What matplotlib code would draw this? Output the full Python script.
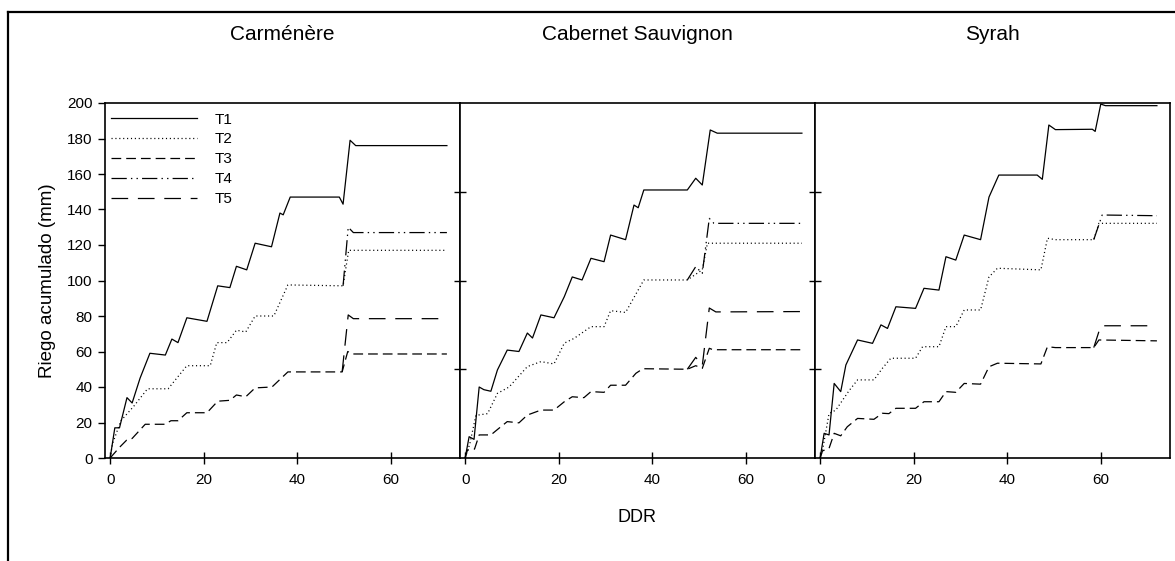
import numpy as np
import matplotlib
matplotlib.use("Agg")
import matplotlib.pyplot as plt
from matplotlib.lines import Line2D

plt.rcParams['font.family'] = ['Liberation Sans', 'DejaVu Sans']
plt.rcParams['lines.scale_dashes'] = False

# riego acumulado (mm) vs DDR, por variedad y tratamiento
cultivares = ["Carménère", "Cabernet Sauvignon", "Syrah"]
tratamientos = ["T1", "T2", "T3", "T4", "T5"]

# Carménère
car_t1_x = [0, 1, 2, 3.6, 4.7, 6.4, 8.5, 11.8, 13.2, 14.5, 16.4, 20.7, 23, 25.6, 27, 29.2, 31, 34.5, 36.3, 37, 38.5, 49, 49.8, 51.3, 52.5, 72]
car_t1_y = [0, 17, 17, 34, 31, 45, 59, 58, 67, 65, 79, 77, 97, 96, 108, 106, 121, 119, 138, 137, 147, 147, 143, 179, 176, 176]
car_t2_x = [0, 0.5, 2.3, 5, 8, 12.4, 16.4, 21.4, 22.8, 25, 27, 29, 31, 35, 38, 49.8, 51, 52, 72]
car_t2_y = [0, 8, 21, 29, 39, 39, 52, 52, 65, 65, 72, 71, 80, 80, 97.5, 97, 117, 117, 117]
car_t3_x = [0, 2, 3.5, 4.7, 7.5, 11.7, 13, 14.5, 16.4, 20.7, 23, 25.6, 27, 29, 31, 34.6, 38, 49.6, 50.8, 51.7, 72]
car_t3_y = [0, 6, 10, 11, 19, 19, 21, 21, 25.5, 25.5, 32, 32.5, 35.5, 34.5, 39.5, 40, 48.5, 48.5, 60, 58.6, 58.6]
car_t4_x = [50.9, 52, 72]      # T4 sigue a T2 hasta el dia 49.8
car_t4_y = [130, 127, 127]
car_t5_x = [50.9, 52, 72]      # T5 sigue a T3 hasta el dia 49.6
car_t5_y = [80.6, 78.5, 78.5]

# Cabernet Sauvignon
cab_t1_x = [0, 0.85, 1.9, 3, 4, 5.5, 6.9, 9, 11.5, 13.3, 14.4, 16.2, 19, 21.2, 22.9, 25, 26.9, 29.7, 31.1, 34.3, 36.1, 37, 38.2, 47.5, 49.3, 50.7, 52.4, 53.9, 72]
cab_t1_y = [0, 12, 10.5, 40, 38.5, 37.6, 49.6, 60.8, 60, 70.4, 67.6, 80.6, 79, 90.9, 102, 100.3, 112.5, 110.6, 125.6, 123, 142.5, 141, 151, 151, 157.6, 153.8, 184.8, 183, 183]
cab_t2_x = [0, 1, 2.3, 4.8, 6.9, 9.4, 13.3, 16.2, 19, 21.2, 23.3, 26.9, 29.7, 31.1, 34.3, 38.2, 47.5, 50.7, 51.8, 53, 72]
cab_t2_y = [0, 8, 24, 25, 36.4, 40, 51.5, 54.3, 53, 64.7, 67.4, 74, 74, 83, 82, 100.3, 100.3, 106, 121, 121, 121]
cab_t3_x = [0, 0.5, 2, 3, 5.5, 7.3, 9, 11.5, 13.3, 16.2, 19, 21.2, 22.9, 25.4, 26.9, 29.7, 31.1, 34.3, 36.5, 38, 47.5, 49.3, 50.7, 52.2, 53, 72]
cab_t3_y = [0, 4.5, 5, 13, 13, 16.9, 20.5, 19.8, 24.2, 27, 27, 31.7, 34.5, 34, 37.4, 37, 41, 41, 47.7, 50.3, 50, 52, 50.5, 61.8, 61, 61]
cab_t4_x = [49.3, 50.7, 52.2, 53.2, 72]   # desde el dia 47.5
cab_t4_y = [107.8, 104, 135, 132.2, 132.2]
cab_t5_x = [49.3, 50.7, 52.2, 53.6, 72]
cab_t5_y = [56.7, 52, 84.5, 82.3, 82.5]

# Syrah
syr_t1_x = [0, 0.85, 1.9, 3, 4.4, 5.5, 8, 11.2, 13, 14.4, 16.2, 20.4, 22.2, 25.4, 26.9, 29, 30.8, 34.3, 36.1, 38.2, 46.4, 47.5, 48.9, 50.3, 58.2, 58.8, 60, 61, 72]
syr_t1_y = [0, 13.9, 13, 42, 37.4, 52.4, 66.5, 64.6, 75, 73, 85.2, 84.3, 95.6, 94.6, 113.4, 111.5, 125.6, 123, 147, 159.4, 159.4, 157, 187.6, 185, 185.2, 184, 199.4, 198.5, 198.5]
syr_t2_x = [0, 0.5, 1.9, 3.35, 6.2, 8, 11.5, 13.3, 15.1, 20.4, 21.9, 25.4, 26.9, 29, 30.8, 34.3, 36.1, 37.9, 47.2, 48.6, 50.3, 58.5, 59.6, 72]
syr_t2_y = [0, 4.3, 25, 27, 38, 44, 44, 50.5, 56.2, 56.2, 62.7, 62.7, 74, 74, 83.4, 83.4, 102, 106.9, 106, 123.8, 123, 123, 132.2, 132.2]
syr_t3_x = [0, 0.5, 1.9, 3, 4.4, 5.8, 8, 11.5, 13.3, 14.7, 16.2, 20.4, 22.2, 25.4, 26.9, 29, 30.8, 34.3, 36.1, 37.9, 47.2, 48.6, 50.3, 58.5, 59.6, 72]
syr_t3_y = [0, 4, 5.4, 13.9, 12.5, 17.6, 22.3, 21.8, 25.2, 25, 28, 28, 31.7, 31.7, 37.4, 37, 42, 41.6, 51.4, 53.4, 53, 62.7, 62.2, 62.2, 66.5, 66]
syr_t4_x = [60.3, 72]   # desde el dia 58.5
syr_t4_y = [136.9, 136.5]
syr_t5_x = [60, 72]
syr_t5_y = [74.5, 74.5]


def rama(x_base, y_base, x_fin, y_fin):
    # T4/T5 coinciden con T2/T3 hasta que se separan: solo se dibuja
    # desde el ultimo punto comun
    x_base = np.array(x_base)
    y_base = np.array(y_base)
    k = np.nonzero(x_base < x_fin[0] - 1.0)[0][-1]
    return np.r_[x_base[k], x_fin], np.r_[y_base[k], y_fin]


paneles = [
    [(car_t1_x, car_t1_y), (car_t2_x, car_t2_y), (car_t3_x, car_t3_y),
     rama(car_t2_x, car_t2_y, car_t4_x, car_t4_y), rama(car_t3_x, car_t3_y, car_t5_x, car_t5_y)],
    [(cab_t1_x, cab_t1_y), (cab_t2_x, cab_t2_y), (cab_t3_x, cab_t3_y),
     rama(cab_t2_x, cab_t2_y, cab_t4_x, cab_t4_y), rama(cab_t3_x, cab_t3_y, cab_t5_x, cab_t5_y)],
    [(syr_t1_x, syr_t1_y), (syr_t2_x, syr_t2_y), (syr_t3_x, syr_t3_y),
     rama(syr_t2_x, syr_t2_y, syr_t4_x, syr_t4_y), rama(syr_t3_x, syr_t3_y, syr_t5_x, syr_t5_y)],
]

estilos = [
    dict(linestyle='-'),
    dict(linestyle=(0, (0.8, 2.0))),
    dict(linestyle=(0, (7, 3.6))),
    dict(linestyle=(0, (11, 3, 1, 3, 1, 3))),
    dict(linestyle=(0, (12, 7))),
]

fig = plt.figure(figsize=(11.75, 5.61), dpi=100)

ancho = 355 / 1175
izq = 105 / 1175
abajo = 1 - 458 / 561
alto = 355 / 561

ejes = []
for i in range(3):
    ax = fig.add_axes([izq + i * ancho, abajo, ancho, alto])
    ejes.append(ax)
    for j, (x, y) in enumerate(paneles[i]):
        ax.plot(x, y, color='k', lw=0.9, label=tratamientos[j], **estilos[j])
    ax.set_xlim(-1.1, 74.8)
    ax.set_ylim(0, 200)
    ax.set_xticks([0, 20, 40, 60])
    ax.tick_params(axis='x', direction='inout', length=9, width=1, labelsize=11, pad=6)
    for s in ax.spines.values():
        s.set_linewidth(1.2)
    fig.text(izq + (i + 0.5) * ancho, 1 - 35 / 561, cultivares[i],
             ha='center', va='center', fontsize=15)
    if i == 0:
        ax.set_yticks(np.arange(0, 201, 20))
        ax.tick_params(axis='y', direction='out', length=5, width=1, labelsize=11, pad=4)
        ax.set_ylabel("Riego acumulado (mm)", fontsize=13.5, labelpad=8)
    else:
        ax.set_yticks([50, 100, 150])
        ax.set_yticklabels([])
        ax.tick_params(axis='y', direction='inout', length=9, width=1)

ejes[0].legend(loc='upper left', bbox_to_anchor=(0.0, 0.99), frameon=False,
               handlelength=5.6, handletextpad=1.2, labelspacing=0.38,
               fontsize=11, borderaxespad=0.0)

fig.text(637 / 1175, 1 - 518 / 561, "DDR", ha='center', va='center', fontsize=13)

# marco de la figura
fig.add_artist(Line2D([8 / 1175, 8 / 1175], [0, 1 - 12 / 561], transform=fig.transFigure, color='k', lw=1.6))
fig.add_artist(Line2D([8 / 1175, 1], [1 - 12 / 561, 1 - 12 / 561], transform=fig.transFigure, color='k', lw=1.6))

fig.savefig("out.png", dpi=100)
